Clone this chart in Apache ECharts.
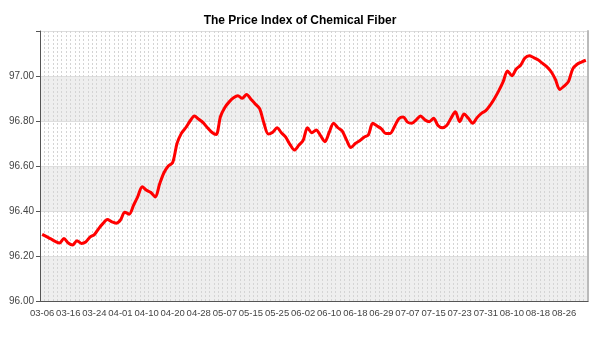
<!DOCTYPE html>
<html>
<head>
<meta charset="utf-8">
<script src="https://cdn.jsdelivr.net/npm/echarts@6/dist/echarts.min.js"></script>
<style>
  html, body { margin: 0; padding: 0; background: #fff; }
  #chart { width: 600px; height: 350px; }
</style>
</head>
<body>
<div id="chart"></div>
<script>
const chartTitle = 'The Price Index of Chemical Fiber'

// trading days, 2015
const dates = [
  '03-06', '03-09', '03-10', '03-11', '03-12', '03-13',
  '03-16', '03-17', '03-18', '03-19', '03-20', '03-23',
  '03-24', '03-25', '03-26', '03-27', '03-30', '03-31',
  '04-01', '04-02', '04-03', '04-07', '04-08', '04-09',
  '04-10', '04-13', '04-14', '04-15', '04-16', '04-17',
  '04-20', '04-21', '04-22', '04-23', '04-24', '04-27',
  '04-28', '04-29', '04-30', '05-04', '05-05', '05-06',
  '05-07', '05-08', '05-11', '05-12', '05-13', '05-14',
  '05-15', '05-18', '05-19', '05-20', '05-21', '05-22',
  '05-25', '05-26', '05-27', '05-28', '05-29', '06-01',
  '06-02', '06-03', '06-04', '06-05', '06-08', '06-09',
  '06-10', '06-11', '06-12', '06-15', '06-16', '06-17',
  '06-18', '06-19', '06-23', '06-24', '06-25', '06-26',
  '06-29', '06-30', '07-01', '07-02', '07-03', '07-06',
  '07-07', '07-08', '07-09', '07-10', '07-13', '07-14',
  '07-15', '07-16', '07-17', '07-20', '07-21', '07-22',
  '07-23', '07-24', '07-27', '07-28', '07-29', '07-30',
  '07-31', '08-03', '08-04', '08-05', '08-06', '08-07',
  '08-10', '08-11', '08-12', '08-13', '08-14', '08-17',
  '08-18', '08-19', '08-20', '08-21', '08-24', '08-25',
  '08-26', '08-27', '08-28', '08-31', '09-01', '09-02'
]

const priceIndex = [
  96.296, 96.286, 96.276, 96.265, 96.258, 96.278,
  96.258, 96.249, 96.268, 96.256, 96.262, 96.284,
  96.295, 96.322, 96.345, 96.362, 96.352, 96.346,
  96.360, 96.395, 96.386, 96.425, 96.465, 96.508,
  96.492, 96.482, 96.462, 96.520, 96.570, 96.600,
  96.615, 96.700, 96.745, 96.770, 96.800, 96.822,
  96.808, 96.793, 96.770, 96.750, 96.740, 96.820,
  96.860, 96.885, 96.903, 96.912, 96.901, 96.918,
  96.897, 96.876, 96.855, 96.790, 96.742, 96.750,
  96.770, 96.748, 96.728, 96.695, 96.671, 96.692,
  96.714, 96.770, 96.748, 96.760, 96.735, 96.708,
  96.750, 96.790, 96.770, 96.755, 96.715, 96.682,
  96.700, 96.712, 96.728, 96.738, 96.790, 96.778,
  96.765, 96.745, 96.745, 96.775, 96.810, 96.818,
  96.795, 96.790, 96.805, 96.822, 96.805, 96.797,
  96.812, 96.780, 96.770, 96.780, 96.812, 96.841,
  96.797, 96.831, 96.812, 96.790, 96.815, 96.834,
  96.846, 96.870, 96.900, 96.935, 96.975, 97.022,
  97.001, 97.031, 97.048, 97.080, 97.090, 97.082,
  97.072, 97.057, 97.042, 97.020, 96.985, 96.940,
  96.955, 96.975, 97.032, 97.052, 97.062, 97.070
]

const yMin = 96
const yMax = 97.2
const yStep = 0.2

const chart = echarts.init(document.getElementById('chart'))

const labelFont = {
  fontFamily: 'Liberation Sans, Arial, sans-serif',
  fontSize: 10,
  color: '#444'
}

chart.setOption({
  animation: false,
  title: {
    text: chartTitle,
    left: 'center',
    top: 10,
    textStyle: {
      fontFamily: 'Liberation Sans, Arial, sans-serif',
      fontSize: 12,
      fontWeight: 'bold',
      color: '#000'
    }
  },
  grid: {
    left: 40,
    right: 12,
    top: 31,
    bottom: 49,
    containLabel: false
  },
  xAxis: {
    type: 'category',
    data: dates,
    boundaryGap: true,
    axisLine: { lineStyle: { color: '#555', width: 1 } },
    axisTick: {
      interval: 5,
      alignWithLabel: true,
      length: 4,
      lineStyle: { color: '#555' }
    },
    axisLabel: {
      ...labelFont,
      fontSize: 9.5,
      interval: 5,
      margin: 7,
      hideOverlap: false
    },
    splitLine: {
      show: true,
      interval: 0,
      lineStyle: { color: '#d4d4d4', type: [2, 2], width: 1 }
    }
  },
  yAxis: [
    {
      type: 'value',
      min: yMin,
      max: yMax,
      interval: yStep,
      axisLine: { show: true, lineStyle: { color: '#555', width: 1 } },
      axisTick: { show: true, length: 4, lineStyle: { color: '#555' } },
      axisLabel: {
        ...labelFont,
        margin: 6,
        formatter: v => (Math.abs(v - yMax) < 1e-6 ? '' : v.toFixed(2))
      },
      splitLine: { lineStyle: { color: '#dedede', width: 1 } },
      splitArea: {
        show: true,
        areaStyle: { color: ['#eeeeee', '#ffffff'] }
      }
    },
    {
      type: 'value',
      position: 'right',
      min: yMin,
      max: yMax,
      interval: yStep,
      axisLine: { show: true, lineStyle: { color: '#bbb', width: 2 } },
      axisTick: { show: false },
      axisLabel: { show: false },
      splitLine: { show: false }
    }
  ],
  series: [{
    type: 'line',
    data: priceIndex,
    smooth: 0.3,
    showSymbol: false,
    lineStyle: { color: '#f00', width: 3 },
    itemStyle: { color: '#f00' }
  }]
})
</script>
</body>
</html>
